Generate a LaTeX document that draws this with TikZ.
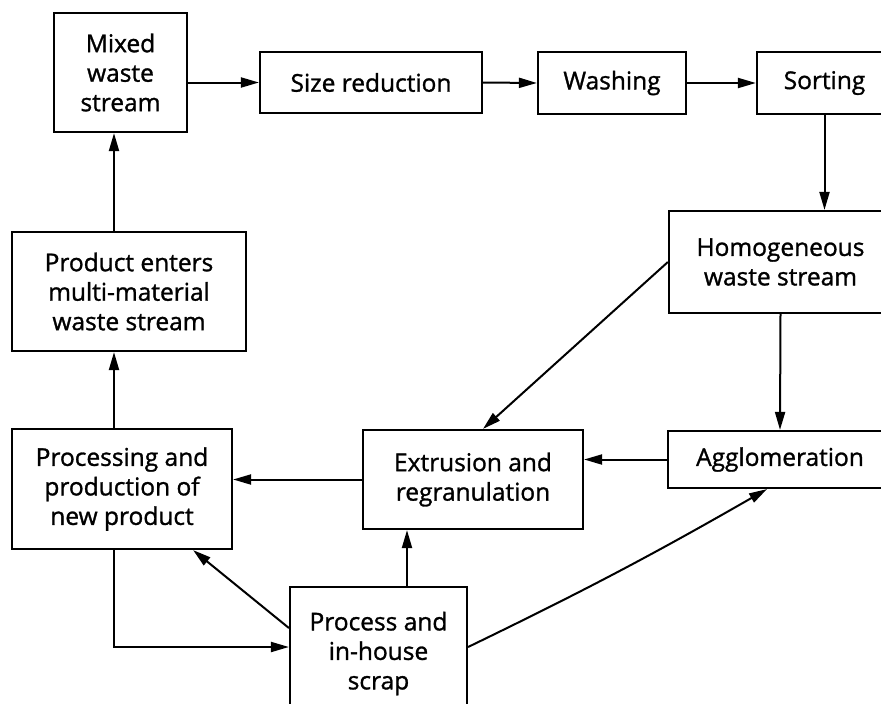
\documentclass[tikz,border=0pt]{standalone}
\usepackage{fontspec}
\setmainfont{Open Sans}[FakeBold=1.2]
\usetikzlibrary{arrows.meta}
\begin{document}
\begin{tikzpicture}[x=1pt,y=-1pt,
  box/.style={draw,line width=2.2pt,rectangle,inner sep=0pt,align=center,
    font=\fontsize{24.5}{29.5}\selectfont},
  arr/.style={line width=2pt,-{Triangle[length=18pt,width=10pt]}},
  ln/.style={line width=2pt}]
\useasboundingbox (0,0) rectangle (881,704);
\clip (0,0) rectangle (881,704);
\node[box,minimum width=133pt,minimum height=119pt] (mixed) at (120.5,72.5) {Mixed\\waste\\stream};
\node[box,minimum width=222pt,minimum height=61pt] (size) at (371,82.5) {Size reduction};
\node[box,minimum width=148pt,minimum height=62pt] (wash) at (612,83) {Washing};
\node[box,minimum width=135pt,minimum height=62pt] (sort) at (824.5,83) {Sorting};
\node[box,minimum width=223pt,minimum height=102pt] (homog) at (780.5,262) {Homogeneous\\waste stream};
\node[box,minimum width=234pt,minimum height=119pt] (product) at (129,291.5) {Product enters\\multi-material\\waste stream};
\node[box,minimum width=220pt,minimum height=120pt] (proc) at (122,489) {Processing and\\production of\\new product};
\node[box,minimum width=220pt,minimum height=99pt] (extr) at (473,479.5) {Extrusion and\\regranulation};
\node[box,minimum width=224pt,minimum height=57pt] (agglo) at (780,459.5) {Agglomeration};
\node[box,minimum width=177pt,minimum height=133pt] (scrap) at (378.5,653.5) {Process and\\in-house\\scrap};
% connectors
\draw[arr] (mixed.east |- size.west) -- (size.west);
\draw[arr] (size.east) -- (wash.west);
\draw[arr] (wash.east) -- (sort.west);
\draw[arr] (sort.south) -- (sort.south |- homog.north);
\draw[arr] (homog.south) -- (agglo.north);
\draw[arr] (homog.west) -- ([xshift=10pt]extr.north);
\draw[arr] (agglo.west) -- (agglo.west -| extr.east);
\draw[arr] (extr.west) -- (extr.west -| proc.east);
\draw[arr] ([xshift=-8pt]proc.north) -- ([xshift=-8pt]proc.north |- product.south);
\draw[arr] ([xshift=-15pt]product.north) -- ([xshift=-15pt]product.north |- mixed.south);
\draw[arr] ([xshift=-8pt]proc.south) |- ([yshift=6.5pt]scrap.west);
\draw[arr] ([yshift=25.5pt]scrap.west) -- ([xshift=-40pt]proc.south east);
\draw[arr] ([xshift=28.5pt]scrap.north) -- ([xshift=28.5pt]scrap.north |- extr.south);
\draw[arr] ([yshift=6.5pt]scrap.east) to[bend right=2] ([xshift=-13pt]agglo.south);
\end{tikzpicture}
\end{document}
